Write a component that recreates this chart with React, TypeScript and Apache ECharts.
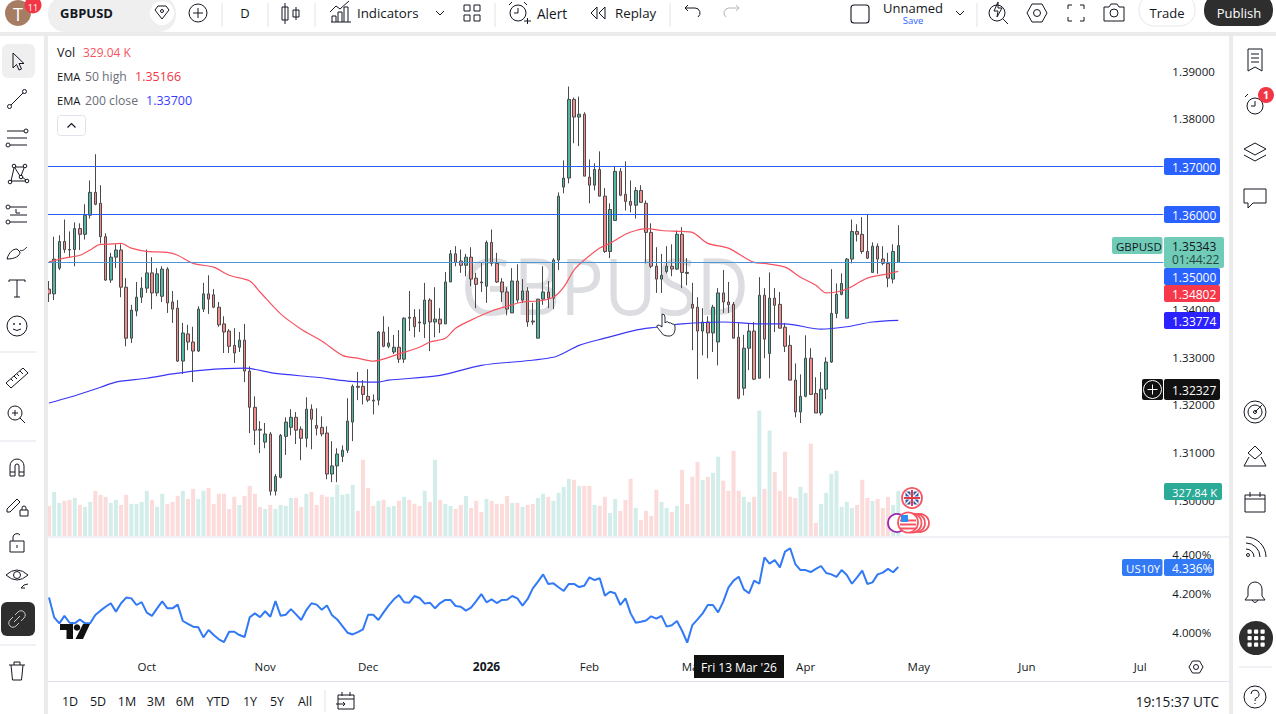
import React, { useEffect, useRef } from "react";
import * as echarts from "echarts";

// open, close, low, high
const gbpusdOhlc: number[][] = [
[1.3443,1.3433,1.3416,1.3460],[1.3433,1.3506,1.3420,1.3553],[1.3487,1.3543,1.3483,1.3556],[1.3543,1.3526,1.3519,1.3589],[1.3526,1.3525,1.3510,1.3564],
[1.3526,1.3570,1.3491,1.3583],[1.3570,1.3558,1.3525,1.3581],[1.3558,1.3598,1.3547,1.3621],[1.3598,1.3646,1.3591,1.3671],[1.3646,1.3621,1.3619,1.3726],
[1.3623,1.3553,1.3539,1.3661],[1.3553,1.3462,1.3460,1.3560],[1.3462,1.3510,1.3456,1.3519],[1.3510,1.3525,1.3487,1.3537],[1.3525,1.3447,1.3426,1.3537],
[1.3447,1.3340,1.3323,1.3466],[1.3340,1.3399,1.3330,1.3410],[1.3397,1.3426,1.3386,1.3458],[1.3426,1.3445,1.3414,1.3468],[1.3445,1.3477,1.3435,1.3526],
[1.3477,1.3435,1.3401,1.3510],[1.3435,1.3475,1.3428,1.3487],[1.3428,1.3485,1.3416,1.3491],[1.3485,1.3414,1.3393,1.3489],[1.3416,1.3401,1.3372,1.3439],
[1.3403,1.3292,1.3290,1.3420],[1.3292,1.3351,1.3265,1.3372],[1.3349,1.3332,1.3315,1.3368],[1.3332,1.3313,1.3248,1.3364],[1.3313,1.3401,1.3311,1.3407],
[1.3401,1.3433,1.3395,1.3456],[1.3433,1.3422,1.3391,1.3472],[1.3431,1.3405,1.3403,1.3443],[1.3405,1.3368,1.3364,1.3416],[1.3370,1.3353,1.3309,1.3386],
[1.3355,1.3323,1.3309,1.3359],[1.3325,1.3309,1.3288,1.3361],[1.3321,1.3336,1.3311,1.3353],[1.3336,1.3271,1.3248,1.3370],[1.3271,1.3195,1.3141,1.3281],
[1.3195,1.3147,1.3116,1.3218],[1.3149,1.3147,1.3099,1.3166],[1.3122,1.3139,1.3109,1.3162],[1.3139,1.3019,1.3010,1.3143],[1.3019,1.3050,1.3010,1.3055],
[1.3048,1.3136,1.3046,1.3139],[1.3134,1.3164,1.3095,1.3174],[1.3153,1.3174,1.3136,1.3191],[1.3174,1.3147,1.3118,1.3185],[1.3149,1.3130,1.3084,1.3155],
[1.3130,1.3191,1.3111,1.3216],[1.3191,1.3170,1.3107,1.3201],[1.3157,1.3151,1.3136,1.3193],[1.3153,1.3139,1.3134,1.3176],[1.3141,1.3055,1.3044,1.3155],
[1.3055,1.3072,1.3038,1.3124],[1.3072,1.3097,1.3038,1.3109],[1.3092,1.3105,1.3080,1.3115],[1.3105,1.3166,1.3099,1.3214],[1.3164,1.3239,1.3124,1.3243],
[1.3239,1.3237,1.3210,1.3269],[1.3239,1.3222,1.3201,1.3252],[1.3218,1.3210,1.3206,1.3275],[1.3210,1.3208,1.3180,1.3222],[1.3210,1.3353,1.3199,1.3355],
[1.3353,1.3323,1.3321,1.3386],[1.3323,1.3330,1.3319,1.3364],[1.3311,1.3321,1.3307,1.3347],[1.3321,1.3296,1.3288,1.3357],[1.3296,1.3382,1.3288,1.3384],
[1.3384,1.3382,1.3355,1.3439],[1.3384,1.3364,1.3342,1.3401],[1.3374,1.3372,1.3353,1.3401],[1.3370,1.3420,1.3340,1.3456],[1.3420,1.3374,1.3313,1.3424],
[1.3374,1.3380,1.3342,1.3447],[1.3380,1.3370,1.3351,1.3403],[1.3370,1.3458,1.3370,1.3479],[1.3458,1.3517,1.3458,1.3525],[1.3517,1.3499,1.3491,1.3533],
[1.3502,1.3493,1.3477,1.3526],[1.3493,1.3510,1.3470,1.3517],[1.3510,1.3464,1.3449,1.3531],[1.3466,1.3453,1.3403,1.3477],[1.3458,1.3456,1.3437,1.3499],
[1.3449,1.3541,1.3414,1.3545],[1.3541,1.3497,1.3491,1.3568],[1.3497,1.3458,1.3456,1.3519],[1.3458,1.3437,1.3416,1.3466],[1.3437,1.3401,1.3388,1.3447],
[1.3393,1.3460,1.3393,1.3487],[1.3460,1.3420,1.3414,1.3495],[1.3420,1.3439,1.3414,1.3464],[1.3439,1.3374,1.3364,1.3447],[1.3376,1.3374,1.3368,1.3414],
[1.3340,1.3422,1.3340,1.3422],[1.3422,1.3437,1.3410,1.3491],[1.3437,1.3424,1.3403,1.3460],[1.3424,1.3504,1.3401,1.3508],[1.3504,1.3638,1.3483,1.3646],
[1.3657,1.3676,1.3644,1.3713],[1.3676,1.3841,1.3665,1.3868],[1.3841,1.3804,1.3749,1.3845],[1.3804,1.3810,1.3743,1.3847],[1.3810,1.3680,1.3680,1.3814],
[1.3678,1.3661,1.3623,1.3715],[1.3661,1.3694,1.3650,1.3707],[1.3694,1.3638,1.3638,1.3732],[1.3638,1.3522,1.3519,1.3655],[1.3522,1.3610,1.3508,1.3623],
[1.3587,1.3690,1.3587,1.3701],[1.3690,1.3640,1.3638,1.3697],[1.3642,1.3627,1.3608,1.3711],[1.3627,1.3619,1.3604,1.3671],[1.3619,1.3650,1.3591,1.3657],
[1.3650,1.3625,1.3625,1.3661],[1.3623,1.3562,1.3497,1.3629],[1.3562,1.3491,1.3487,1.3581],[1.3491,1.3464,1.3435,1.3531],[1.3464,1.3472,1.3435,1.3517],
[1.3480,1.3491,1.3476,1.3533],[1.3491,1.3485,1.3470,1.3537],[1.3485,1.3558,1.3483,1.3566],[1.3558,1.3478,1.3445,1.3573],[1.3478,1.3476,1.3451,1.3508],
[1.3411,1.3403,1.3315,1.3456],[1.3405,1.3355,1.3254,1.3426],[1.3355,1.3374,1.3304,1.3403],[1.3374,1.3351,1.3298,1.3386],[1.3351,1.3405,1.3311,1.3410],
[1.3332,1.3435,1.3283,1.3445],[1.3435,1.3416,1.3393,1.3483],[1.3416,1.3410,1.3393,1.3458],[1.3411,1.3340,1.3340,1.3416],[1.3342,1.3214,1.3212,1.3372],
[1.3235,1.3319,1.3220,1.3347],[1.3319,1.3355,1.3273,1.3372],[1.3355,1.3254,1.3252,1.3374],[1.3256,1.3430,1.3256,1.3468],[1.3430,1.3338,1.3298,1.3445],
[1.3308,1.3424,1.3256,1.3478],[1.3424,1.3409,1.3353,1.3445],[1.3411,1.3361,1.3361,1.3437],[1.3363,1.3323,1.3311,1.3372],[1.3325,1.3252,1.3252,1.3346],
[1.3252,1.3185,1.3174,1.3287],[1.3185,1.3218,1.3162,1.3264],[1.3218,1.3298,1.3216,1.3346],[1.3298,1.3222,1.3222,1.3319],[1.3224,1.3183,1.3183,1.3258],
[1.3183,1.3233,1.3178,1.3269],[1.3233,1.3290,1.3212,1.3300],[1.3290,1.3392,1.3288,1.3485],[1.3392,1.3432,1.3382,1.3455],[1.3432,1.3455,1.3430,1.3476],
[1.3382,1.3506,1.3382,1.3508],[1.3506,1.3564,1.3497,1.3589],[1.3564,1.3558,1.3543,1.3579],[1.3558,1.3522,1.3517,1.3594],[1.3522,1.3508,1.3506,1.3600],
[1.3478,1.3533,1.3478,1.3541],[1.3533,1.3506,1.3475,1.3539],[1.3506,1.3497,1.3493,1.3533],[1.3497,1.3466,1.3447,1.3519],[1.3464,1.3522,1.3455,1.3537],
[1.3499,1.35343,1.3499,1.3577],
];

const volumeK: number[] = [
219,321,241,256,263,277,226,212,248,329,299,285,241,263,226,299,234,234,248,329,263,212,307,234,248,292,329,270,343,270,329,350,234,307,307,197,285,226,292,365,307,212,197,226,197,226,219,277,277,212,307,321,226,299,285,285,372,299,307,372,183,555,350,219,256,263,
212,219,256,285,263,234,219,329,248,555,263,234,219,197,226,292,204,256,175,270,256,234,234,292,241,241,212,226,234,277,307,285,256,314,358,416,409,365,365,365,226,219,285,168,270,183,263,416,204,117,183,146,336,248,204,175,219,482,234,431,540,409,431,460,577,402,329,621,329.04,285,248,285,913,343,767,467,329,613,285,277,358,314,672,95,234,314,453,475,212,248,204,226,409,277,256,270,204,285,226,327.84,
];

// [bar index, value]
const ema50High: number[][] = [
[0,1.3500],[3,1.3508],[6,1.3514],[8,1.3525],[10,1.3537],[11,1.3537],[14,1.3539],[16,1.3529],[19,1.3522],[23,1.3520],[25,1.3514],[28,1.3497],[32,1.3489],[35,1.3472],[39,1.3460],[41,1.3437],[45,1.3391],[49,1.3359],[53,1.3334],[57,1.3304],[60,1.3298],[63,1.3292],[68,1.3307],[72,1.3321],[74,1.3332],[77,1.3340],[79,1.3361],[82,1.3378],[86,1.3397],[89,1.3407],[92,1.3416],[95,1.3418],[98,1.3426],[100,1.3447],[102,1.3483],[104,1.3504],[107,1.3529],[109,1.3539],[112,1.3558],[114,1.3566],[116,1.3570],[119,1.3566],[123,1.3564],[125,1.3562],[128,1.3539],[132,1.3529],[137,1.3499],[139,1.3497],[143,1.3489],[146,1.3468],[149,1.3451],[151,1.3435],[153,1.3437],[155,1.3443],[159,1.3466],[163,1.3475],[165,1.34802],
];
const ema200Close: number[][] = [
[0,1.3204],[4,1.3216],[10,1.3237],[13,1.3248],[19,1.3256],[24,1.3265],[30,1.3273],[38,1.3277],[44,1.3266],[52,1.3258],[58,1.3250],[64,1.3248],[66,1.3252],[76,1.3262],[84,1.3283],[98,1.3300],[103,1.3325],[108,1.3340],[114,1.3357],[118,1.3363],[123,1.3370],[131,1.3374],[138,1.3370],[143,1.3370],[150,1.3359],[155,1.3364],[160,1.3374],[165,1.33774],
];

const us10y: number[] = [
4.180,4.078,4.047,4.085,4.050,4.047,4.067,4.047,4.047,4.090,4.112,4.132,4.150,4.107,4.150,4.179,4.175,4.141,4.156,4.102,4.085,4.124,4.160,4.124,4.124,4.143,4.059,4.044,4.030,4.027,3.975,4.013,3.987,3.965,3.951,4.004,4.004,3.987,3.977,4.078,4.098,4.079,4.109,4.081,4.161,4.086,4.091,4.120,4.093,4.064,4.115,4.150,4.143,4.117,4.139,4.088,4.067,4.033,3.999,3.990,4.002,4.016,4.091,4.091,4.064,4.103,4.139,4.170,4.192,4.155,4.153,4.187,4.177,4.148,4.153,4.124,4.151,4.167,4.167,4.136,4.132,4.112,4.127,4.161,4.197,4.155,4.170,4.151,4.167,4.168,4.187,4.175,4.138,4.172,4.226,4.261,4.298,4.249,4.252,4.232,4.213,4.249,4.249,4.233,4.240,4.283,4.269,4.278,4.189,4.209,4.201,4.141,4.175,4.098,4.050,4.055,4.062,4.083,4.071,4.085,4.030,4.037,4.059,4.009,3.948,4.038,4.067,4.098,4.141,4.141,4.103,4.158,4.230,4.266,4.286,4.221,4.201,4.266,4.250,4.385,4.353,4.372,4.334,4.415,4.432,4.351,4.320,4.320,4.310,4.326,4.341,4.305,4.298,4.285,4.320,4.295,4.250,4.283,4.317,4.249,4.257,4.298,4.307,4.326,4.309,4.336,
];

const levels: number[] = [1.37, 1.36, 1.35];
const lastPrice = 1.35343;
const monthTicks: [number, string][] = [[19,"Oct"],[42,"Nov"],[62,"Dec"],[85,"2026"],[105,"Feb"],[125,"Mar"],[147,"Apr"],[169,"May"],[190,"Jun"],[212,"Jul"]];
const slotCount = 217;
const ranges = [["1D",70],["5D",98],["1M",127],["3M",156],["6M",185],["YTD",218],["1Y",250],["5Y",277],["All",305]] as [string,number][];

const FONT = '"Open Sans", sans-serif';
const INK = "#131722";

const C = (x: number, y: number, r: number) => `M${x - r} ${y}a${r} ${r} 0 1 0 ${2 * r} 0a${r} ${r} 0 1 0 ${-2 * r} 0Z`;
const ICONS: Record<string, string> = {
  cursor: "M10 6L10 21L13.5 17.5L16 23L18.5 22L16 16.5L21 16.5Z",
  trend: "M8 20L20 8" + C(6.5, 21.5, 2) + C(21.5, 6.5, 2),
  fib: "M4 7H21" + C(23, 7, 2) + "M4 14H24M7 21H24" + C(5, 21, 2),
  net: "M8 21L11 8M12 7L21 7M12 8L17 16M18 16L21 8M8 21L23 21M19 17L23 20" + C(7, 22, 1.8) + C(11, 6, 1.8) + C(18, 17, 1.8) + C(22, 6, 1.8) + C(24, 21, 1.8),
  fibT: "M7 7H24M7 15H24M7 22H24M13 9V13H17" + C(5, 7, 2) + C(5, 22, 2),
  brush: "M4 22C6 15 10 12 14 12L17 15C17 19 12 22 4 22ZM17 13C19 15 22 12 24 10",
  tee: "M6 6H22M14 6V23M11 23H17M6 6V8M22 6V8",
  smile: C(14, 14, 10) + C(11, 12, 0.6) + C(17, 12, 0.6) + "M10 17Q14 20 18 17",
  ruler: "M3 20L20 5L25 10L8 25ZM8 16L10 18M11 13L14 16M14 11L16 13M17 8L20 11",
  zoom: C(12, 12, 7) + "M12 9V15M9 12H15M17 17L22 22",
  magnet: "M7 23V13A7 7 0 0 1 21 13V23H16V13A2 2 0 0 0 12 13V23ZM7 19H12M16 19H21",
  penLock: "M4 18L14 8L17 11L7 21L4 21ZM17 19H25V25H17ZM19 19V17A2 2 0 0 1 23 17V19",
  lock: "M7 13H21V24H7ZM10 13V9A4 4 0 0 1 17 7M14 17V20",
  eye: "M3 11Q14 1 25 11Q14 21 3 11Z" + C(14, 11, 3.5) + "M18 24L21 21L25 20M18 24L22 24",
  link: "M12 10L15 7A4 4 0 0 1 21 13L18 16M16 18L13 21A4 4 0 0 1 7 15L10 12M11 17L17 11",
  trash: "M6 9H22M11 9V6H17V9M8 9L9.5 24H18.5L20 9",
  gem: "M7 11L10 7H18L21 11L14 20Z" + C(14, 12, 1.5),
  plusC: C(14, 14, 9) + "M14 9V19M9 14H19",
  candle: "M8 4V25M5 8H11V21H5ZM19 8V21M16 11H22V18H16Z",
  indic: "M5 24H25M6 24V18H10V24M12 24V14H16V24M18 24V9H22V24M4 14L10 8L14 11L23 3",
  chev: "M10 12L14 16L18 12",
  grid4: "M6 6H12V12H6ZM16 6H22V12H16ZM6 16H12V22H6ZM16 16H22V22H16Z",
  alarm: C(14, 14, 8) + "M14 9V14H10M5 6L8 3M23 6L20 3M20 22H27M23.5 19V25",
  replay: "M13 8L7 14L13 20ZM21 8L15 14L21 20Z",
  undo: "M9 6L6 9L9 12M6 9H16A5 5 0 0 1 19 18",
  redo: "M19 6L22 9L19 12M22 9H12A5 5 0 0 0 9 18",
  flash: C(12, 14, 8) + "M13 3L9 12H13L12 18L17 9H13ZM18 20L23 25",
  hex: "M4 14L9 5H19L24 14L19 23H9Z" + C(14, 14, 3.5),
  hexS: "M7 14L10.5 8H17.5L21 14L17.5 20H10.5Z" + C(14, 14, 2.5),
  full: "M6 10V6H10M18 6H22V10M22 18V22H18M10 22H6V18",
  camera: "M4 9H9L11 6H17L19 9H24V23H4Z" + C(14, 15, 4),
  list: "M7 3H21V25L14 21L7 25ZM10 8H18M10 12H18M10 16H18",
  alarm2: C(14, 16, 8) + "M14 11V16H10M4 7L7 4",
  layers: "M14 5L25 11L14 17L3 11ZM3 17L14 23L25 17",
  chat: "M3 5H25V19H12L7 24V19H3Z",
  target: C(14, 14, 11) + C(14, 14, 7) + C(14, 14, 1.5) + "M14 14L21 7",
  pyramid: "M14 3L21 10L14 16L7 10ZM8 14L3 23H25L20 14",
  calendar: "M4 7H24V24H4ZM9 4V9M19 4V9M4 11H24",
  signal: C(7, 22, 1.5) + "M5 16A8 8 0 0 1 13 24M5 10A14 14 0 0 1 19 24M5 4A20 20 0 0 1 25 24",
  bell: "M14 4A7 7 0 0 0 7 11V18L4 22H24L21 18V11A7 7 0 0 0 14 4ZM11 22Q14 27 17 22",
  help: C(14, 14, 11) + "M10 11A4 4 0 1 1 15 15Q14 16 14 18M14 20V21",
  calArrow: "M5 8H21V22H5ZM9 5V9M17 5V9M5 12H21M3 17H12M10 15L12 17L10 19",
  hand: "M8 2Q11 2 11 5V11L12 10Q14 9 15 11Q17 10 18 12Q20 11 21 14V18Q20 25 13 24Q9 24 7 20L3 15Q2 13 5 13L8 15Z",
  logoT: "M0 0H13V15H6.5V6H0Z",
  logoS: "M23 0H30L23 15H15.5Z",
};
Object.keys(ICONS).forEach((k) => {
  echarts.graphic.registerShape("ic_" + k, (echarts.graphic as any).extendPath(ICONS[k], {}));
});

const icon = (k: string, cx: number, cy: number, stroke = INK, lw = 1, z = 120): any => ({
  type: "ic_" + k, x: cx - 14, y: cy - 14, z, silent: true, style: { stroke, fill: "none", lineWidth: lw },
});
const txt = (t: string, x: number, y: number, fill = INK, size = 13, align = "left", extra: any = {}, z = 120): any => ({
  type: "text", z, silent: true,
  style: { text: t, x, y, fill, font: `${extra.weight || "normal"} ${size}px ${FONT}`, textAlign: align, textVerticalAlign: "middle" },
});
const box = (x: number, y: number, w: number, h: number, fill: string, r = 0, z = 110, extra: any = {}): any => ({
  type: "rect", z, silent: true, shape: { x, y, width: w, height: h, r }, style: { fill, ...extra },
});
const sep = (x1: number, y1: number, x2: number, y2: number, c = "#e0e3eb", z = 115): any => ({
  type: "line", z, silent: true, shape: { x1, y1, x2, y2 }, style: { stroke: c, lineWidth: 1 },
});
const tag = (t: string, y: number, h: number, fill: string, w = 56, color = "#fff", size = 12): any[] => [
  box(1164, y, w, h, fill, 2, 110),
  txt(t, 1172, y + h / 2 + 0.5, color, size, "left", { weight: "500" }, 112),
];

function overlay(): any[] {
  const g: any[] = [];
  // watermark below the candles
  g.push({ type: "text", z: 1, silent: true, x: 605, y: 285, scaleX: 0.93,
    style: { text: "GBPUSD", x: 0, y: 0, fill: "#dcdde0", font: `78px ${FONT}`, textAlign: "center", textVerticalAlign: "middle" } });
  // chrome
  g.push(box(0, 0, 1276, 32, "#fff", 0, 100));
  g.push(box(0, 32, 1276, 4, "#ebebeb", 0, 100));
  g.push(box(0, 36, 44, 678, "#fff", 0, 100));
  g.push(box(44, 32, 4, 682, "#ebebeb", 0, 100));
  g.push(box(1229, 32, 4, 682, "#ebebeb", 0, 100));
  g.push(box(1233, 36, 43, 678, "#fff", 0, 100));
  g.push(box(48, 682, 1181, 32, "#fff", 0, 100));
  g.push(sep(48, 681.5, 1229, 681.5));
  g.push(sep(48, 537, 1229, 537, "#e0e3eb", 5));

  // top bar
  g.push({ type: "circle", z: 120, silent: true, shape: { cx: 18, cy: 13, r: 13 }, style: { fill: "#a67c62" } });
  g.push(txt("T", 18, 14, "#fff", 18, "center"));
  g.push({ type: "circle", z: 121, silent: true, shape: { cx: 33, cy: 5, r: 8.5 }, style: { fill: "#f23645" } });
  g.push(txt("11", 33, 7, "#fff", 9, "center", {}, 122));
  g.push(box(48, -4, 128, 36, "#efefef", 17, 110));
  g.push(txt("GBPUSD", 60, 13, INK, 13, "left", { weight: "bold" }));
  g.push({ type: "circle", z: 112, silent: true, shape: { cx: 162, cy: 13, r: 12 }, style: { fill: "#fff" } });
  g.push(icon("gem", 162, 13));
  g.push(icon("plusC", 198, 13));
  [222, 268, 315, 495, 670, 977].forEach((x) => g.push(sep(x, 3, x, 27)));
  g.push(txt("D", 245, 13, INK, 13, "center"));
  g.push(icon("candle", 291, 13));
  g.push(icon("indic", 340, 12));
  g.push(txt("Indicators", 357, 13, INK, 13.3));
  g.push(icon("chev", 440, 13));
  g.push(icon("grid4", 472, 13));
  g.push(icon("alarm", 518, 13));
  g.push(txt("Alert", 537, 13, INK, 13.6));
  g.push(icon("replay", 598, 13));
  g.push(txt("Replay", 615, 13, INK, 13.3));
  g.push(icon("undo", 693, 13));
  g.push(icon("redo", 731, 13, "#b2b5be"));
  g.push(box(851, 5, 18, 18, "none", 3, 120, { stroke: INK, lineWidth: 1.1 }));
  g.push(txt("Unnamed", 913, 8, INK, 13, "center"));
  g.push(txt("Save", 913, 20, "#2962ff", 9.5, "center"));
  g.push(icon("chev", 960, 13));
  g.push(icon("flash", 999, 13));
  g.push(icon("hex", 1037, 13));
  g.push(icon("full", 1076, 13));
  g.push(icon("camera", 1114, 12));
  g.push(box(1139, -6, 56, 32, "#fff", 15, 110, { stroke: "#e6e7ea", lineWidth: 1 }));
  g.push(txt("Trade", 1167, 13, INK, 13, "center"));
  g.push(box(1204, -6, 69, 32, "#2e2e2e", 15, 110));
  g.push(txt("Publish", 1239, 13, "#fff", 13, "center", { weight: "500" }));

  // left toolbar
  g.push(box(2, 44, 33, 34, "#efefef", 6, 110));
  g.push(box(1, 602, 34, 34, "#2e2e2e", 6, 110));
  const lt: [string, number][] = [["cursor",61],["trend",99],["fib",138],["net",174],["fibT",214],["brush",251],["tee",288],["smile",326],["ruler",377],["zoom",415],["magnet",467],["penLock",505],["lock",542],["eye",578],["trash",670]];
  lt.forEach(([k, y]) => g.push(icon(k, 17, y)));
  g.push(icon("link", 17, 619, "#c9c9c9"));
  [352, 441, 645].forEach((y) => g.push(sep(0, y, 36, y)));

  // right toolbar
  const rt: [string, number][] = [["list",60],["alarm2",104],["layers",152],["chat",198],["target",412],["pyramid",457],["calendar",502],["signal",547],["bell",592],["help",697]];
  rt.forEach(([k, y]) => g.push(icon(k, 1255, y)));
  g.push({ type: "circle", z: 121, silent: true, shape: { cx: 1266, cy: 95, r: 8 }, style: { fill: "#f23645" } });
  g.push(txt("1", 1266, 95, "#fff", 10.5, "center", { weight: "bold" }, 122));
  g.push({ type: "circle", z: 120, silent: true, shape: { cx: 1256, cy: 638, r: 17 }, style: { fill: "#2e2e2e" } });
  for (let r = 0; r < 3; r++) for (let c = 0; c < 3; c++) g.push(box(1247.5 + c * 6.5, 629.5 + r * 6.5, 4.2, 4.2, "#fff", 1, 121));
  g.push(sep(1239, 667, 1272, 667));

  // bottom bar
  ranges.forEach(([t, x]) => g.push(txt(t, x, 701, INK, 12.5, "center")));
  g.push(sep(325, 690, 325, 712));
  g.push(icon("calArrow", 347, 701));
  g.push(txt("19:15:37 UTC", 1219, 701, INK, 13.6, "right"));
  g.push(icon("hexS", 1196, 667, INK, 1));

  // legend
  g.push(txt("Vol", 57, 52, INK, 12.5, "left", {}, 60));
  g.push(txt("329.04 K", 83, 52, "#f7525f", 12, "left", {}, 60));
  g.push(txt("EMA", 57, 76, INK, 11.2, "left", {}, 60));
  g.push(txt("50 high", 85, 76, "#6a6d78", 12.2, "left", {}, 60));
  g.push(txt("1.35166", 135, 76, "#f23645", 12.5, "left", {}, 60));
  g.push(txt("EMA", 57, 100, INK, 11.2, "left", {}, 60));
  g.push(txt("200 close", 85, 100, "#6a6d78", 12.2, "left", {}, 60));
  g.push(txt("1.33700", 146, 100, "#3b3bff", 12.5, "left", {}, 60));
  g.push(box(57.5, 115.5, 28, 20, "#fff", 3, 60, { stroke: "#e0e3eb", lineWidth: 1 }));
  g.push({ ...icon("chev", 71.5, 125.5, INK, 1.2, 61), scaleY: -1, y: 125.5 + 14 });

  // price tags
  g.push(box(1112, 237, 50.5, 17, "#70cbb7", 2, 110));
  g.push(txt("GBPUSD", 1116, 246, INK, 11.5, "left", {}, 112));
  g.push(box(1164, 237, 60, 31, "#70cbb7", 2, 110));
  g.push(txt("1.35343", 1172, 246, INK, 12, "left", {}, 112));
  g.push(txt("01:44:22", 1172, 259, "#25483f", 12, "left", {}, 112));
  g.push(...tag("1.37000", 158, 17, "#2962ff"));
  g.push(...tag("1.36000", 206, 17, "#2962ff"));
  g.push(...tag("1.35000", 268, 17, "#2962ff"));
  g.push(...tag("1.34802", 285, 17, "#f7374a"));
  g.push(...tag("1.33774", 312, 17, "#2b22ff"));
  g.push(box(1142, 379, 21, 21, "#111", 2, 110));
  g.push(icon("plusC", 1152.5, 389.5, "#fff", 1, 112));
  g.push(...tag("1.32327", 379, 21, "#111"));
  g.push(...tag("327.84 K", 483, 17, "#2aaa97", 58, "#fff", 11.3));
  g.push(box(1122, 559, 40.5, 17, "#3179f5", 2, 110));
  g.push(txt("US10Y", 1126, 568, "#fff", 11.5, "left", { weight: "500" }, 112));
  g.push(...tag("4.336%", 559, 17, "#3179f5", 50));
  g.push(box(694, 655, 90, 23, "#111", 0, 90));
  g.push(txt("Fri 13 Mar '26", 739, 667, "#fff", 12, "center", {}, 91));

  // event markers
  const ring = (cx: number, cy: number, r: number, stroke: string, fill = "#fff", z = 70) => ({ type: "circle", z, silent: true, shape: { cx, cy, r }, style: { fill, stroke, lineWidth: 1.8 } });
  g.push(ring(897, 523, 9, "#9c27b0"));
  g.push(ring(920, 523, 9, "#f7525f", "#fff", 71));
  g.push(ring(916, 523, 9, "#f7525f", "#fff", 72));
  g.push(ring(912, 523, 9.5, "#f7525f", "#fff", 73));
  g.push(ring(908, 522.5, 10, "#f7525f", "#fff", 74));
  [519.5, 523.5, 527.5].forEach((y) => g.push(box(900, y, 16, 2, "#f7525f", 0, 75)));
  g.push(box(901, 515, 7, 7, "#2f8cf0", 0, 76));
  g.push(ring(912, 498, 10, "#f7525f", "#fff", 74));
  [[905.5, 491.5], [913.5, 491.5], [905.5, 499.5], [913.5, 499.5]].forEach(([x, y]) => g.push(box(x, y, 5, 5, "#3557a8", 1, 75)));
  g.push({ type: "line", z: 76, silent: true, shape: { x1: 906, y1: 492, x2: 918, y2: 504 }, style: { stroke: "#fff", lineWidth: 1.5 } });
  g.push({ type: "line", z: 76, silent: true, shape: { x1: 918, y1: 492, x2: 906, y2: 504 }, style: { stroke: "#fff", lineWidth: 1.5 } });
  g.push(box(911, 490, 2, 16, "#e23a4a", 0, 77));
  g.push(box(904, 497, 16, 2, "#e23a4a", 0, 77));

  // hand pointer and logo
  g.push({ ...icon("hand", 668, 326, "#2a2e39", 1, 80), style: { stroke: "#2a2e39", fill: "#fff", lineWidth: 1 } });
  g.push({ type: "ic_logoT", x: 60, y: 624, z: 40, silent: true, style: { fill: "#111" } });
  g.push({ type: "ic_logoS", x: 60, y: 624, z: 40, silent: true, style: { fill: "#111" } });
  g.push({ type: "circle", z: 40, silent: true, shape: { cx: 77, cy: 627.5, r: 3.3 }, style: { fill: "#111" } });
  return g;
}

function buildOption(): any {
  const slots = Array.from({ length: slotCount }, (_, i) => "b" + i);
  const tickMap: Record<number, string> = {};
  monthTicks.forEach(([i, t]) => (tickMap[i] = t));
  const left = 46.43, width = 1116.9;
  const hiddenX = (gridIndex: number) => ({
    type: "category", gridIndex, data: slots, boundaryGap: true,
    axisLine: { show: false }, axisTick: { show: false }, axisLabel: { show: false }, splitLine: { show: false },
  });
  const yLab = (fmt: (v: number) => string) => ({ show: true, margin: 9, color: INK, fontFamily: FONT, fontSize: 11.5, formatter: fmt });
  return {
    animation: false,
    backgroundColor: "#fff",
    grid: [
      { left, width, top: 23.64, height: 524.26 },
      { left, width, top: 398.6, height: 137.4 },
      { left, width, top: 515.5, height: 156 },
      { left, width, top: 650, height: 2 },
    ],
    xAxis: [
      hiddenX(0), hiddenX(1), hiddenX(2),
      {
        ...hiddenX(3),
        axisLabel: {
          show: true, margin: 8, color: INK, fontFamily: FONT, fontSize: 11.5, hideOverlap: false,
          interval: (i: number) => tickMap[i] !== undefined,
          formatter: (_: string, i: number) => (tickMap[i] === "2026" ? "{b|2026}" : tickMap[i] || ""),
          rich: { b: { fontWeight: "bold", fontFamily: FONT, fontSize: 12, color: INK } },
        },
      },
    ],
    yAxis: [
      {
        type: "value", gridIndex: 0, position: "right", min: 1.29, max: 1.4, interval: 0.01, scale: true,
        axisLine: { show: false }, axisTick: { show: false }, splitLine: { show: false },
        axisLabel: yLab((v: number) => (v < 1.295 || v > 1.395 ? "" : v.toFixed(5))),
      },
      { type: "value", gridIndex: 1, min: 0, max: 1000, show: false, splitLine: { show: false } },
      {
        type: "value", gridIndex: 2, position: "right", min: 3.8, max: 4.6, interval: 0.2, scale: true,
        axisLine: { show: false }, axisTick: { show: false }, splitLine: { show: false },
        axisLabel: yLab((v: number) => (v < 3.9 || v > 4.5 ? "" : v.toFixed(3) + "%")),
      },
      { type: "value", gridIndex: 3, show: false, splitLine: { show: false } },
    ],
    series: [
      {
        type: "bar", xAxisIndex: 1, yAxisIndex: 1, barWidth: 4, z: 1, silent: true,
        data: volumeK.map((v, i) => ({
          value: v,
          itemStyle: { color: gbpusdOhlc[i][1] >= gbpusdOhlc[i][0] ? "#d3eeea" : "#fcdbdb" },
        })),
      },
      {
        type: "candlestick", xAxisIndex: 0, yAxisIndex: 0, barWidth: 3, z: 3, silent: true,
        itemStyle: { color: "#4fb7a3", color0: "#f28d8d", borderColor: "#4a4a4a", borderColor0: "#4a4a4a", borderWidth: 1 },
        data: gbpusdOhlc,
        markLine: {
          silent: true, symbol: "none", label: { show: false }, animation: false,
          lineStyle: { color: "#2962ff", width: 1, type: "solid" },
          data: [
            ...levels.map((yAxis) => ({ yAxis })),
            { yAxis: lastPrice, lineStyle: { color: "#70cbb7", width: 1, type: "dotted" } },
          ],
        },
      },
      {
        type: "line", xAxisIndex: 0, yAxisIndex: 0, data: ema50High, showSymbol: false, smooth: 0.3, z: 4, silent: true,
        lineStyle: { color: "#f7525f", width: 1.2 },
      },
      {
        type: "line", xAxisIndex: 0, yAxisIndex: 0, data: ema200Close, showSymbol: false, smooth: 0.3, z: 4, silent: true,
        lineStyle: { color: "#3b36f5", width: 1.2 },
      },
      {
        type: "line", xAxisIndex: 2, yAxisIndex: 2, data: us10y, showSymbol: false, z: 4, silent: true,
        lineStyle: { color: "#3179f5", width: 2 },
      },
    ],
    graphic: { elements: overlay() },
  };
}

export default function App() {
  const ref = useRef<HTMLDivElement>(null);
  useEffect(() => {
    document.body.style.margin = "0";
    const chart = echarts.init(ref.current as HTMLDivElement, undefined, { renderer: "svg" });
    chart.setOption(buildOption());
    return () => chart.dispose();
  }, []);
  return <div ref={ref} style={{ position: "absolute", left: 0, top: 0, width: 1276, height: 714, overflow: "hidden" }} />;
}
